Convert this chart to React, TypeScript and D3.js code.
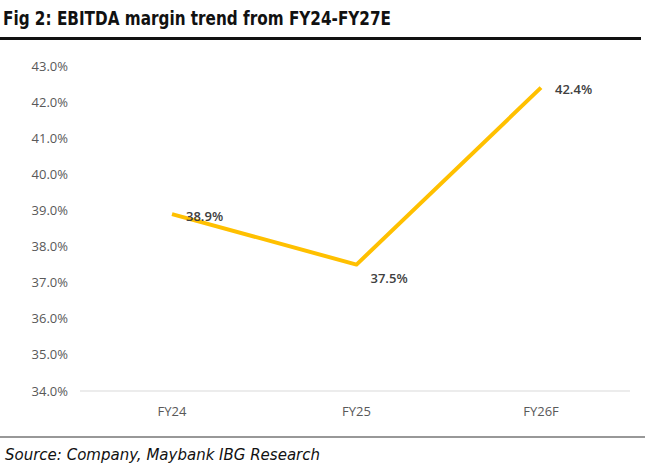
import * as d3 from 'd3'

const categories = ['FY24', 'FY25', 'FY26F']
const margins = [38.9, 37.5, 42.4]
const yTicks = [34, 35, 36, 37, 38, 39, 40, 41, 42, 43]

const W = 662
const H = 469
const labelFont = "'Open Sans', 'Liberation Sans', sans-serif"

export default function App() {
  const x = d3.scalePoint<string>().domain(categories).range([172, 541])
  const y = d3.scaleLinear().domain([34, 43]).range([391, 66])
  const line = d3
    .line<number>()
    .x((_, i) => x(categories[i]) as number)
    .y((d) => y(d))

  return (
    <svg
      width={W}
      height={H}
      style={{ position: 'absolute', left: 0, top: 0, background: '#fff' }}
      fontFamily="'DejaVu Sans', sans-serif"
    >
      <text x={3} y={25} fontSize={19} fontWeight="bold" fill="#111" textLength={388} lengthAdjust="spacingAndGlyphs">
        Fig 2: EBITDA margin trend from FY24-FY27E
      </text>
      <line x1={0} x2={641} y1={38.5} y2={38.5} stroke="#111" strokeWidth={3} />

      <line x1={80} x2={630} y1={y(34)} y2={y(34)} stroke="#d9d9d9" strokeWidth={1.2} />
      {yTicks.map((t) => (
        <text key={t} x={68} y={y(t)} dy="0.35em" textAnchor="end" fontSize={13} fill="#595959" fontFamily={labelFont}>
          {t.toFixed(1)}%
        </text>
      ))}
      {categories.map((c) => (
        <text key={c} x={x(c)} y={416} textAnchor="middle" fontSize={13} fill="#595959" fontFamily={labelFont}>
          {c}
        </text>
      ))}

      <path d={line(margins) ?? ''} fill="none" stroke="#FFC000" strokeWidth={4} strokeLinejoin="round" />
      {margins.map((m, i) => (
        <text
          key={i}
          x={(x(categories[i]) as number) + 14}
          y={y(m) + (i === 1 ? 14 : 2)}
          dy="0.35em"
          fontSize={13}
          fontWeight={600}
          fill="#404040"
          fontFamily={labelFont}
        >
          {m.toFixed(1)}%
        </text>
      ))}

      <line x1={0} x2={645} y1={437} y2={437} stroke="#333" strokeWidth={1.2} />
      <text x={5} y={460} fontSize={15} fontStyle="italic" fill="#111" textLength={315} lengthAdjust="spacingAndGlyphs">
        Source: Company, Maybank IBG Research
      </text>
    </svg>
  )
}
